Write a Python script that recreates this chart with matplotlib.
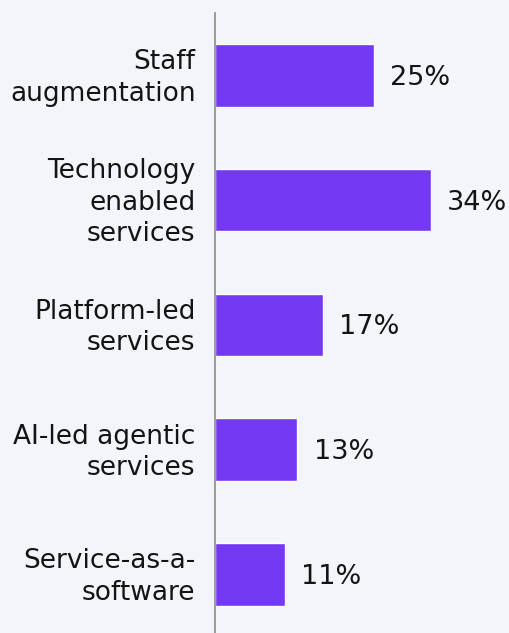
import matplotlib
matplotlib.use("Agg")
import matplotlib.pyplot as plt
from matplotlib.transforms import ScaledTranslation

categories = [
    "Staff\naugmentation",
    "Technology\nenabled\nservices",
    "Platform-led\nservices",
    "AI-led agentic\nservices",
    "Service-as-a-\nsoftware",
]
shares = [25, 34, 17, 13, 11]
value_labels = ["25%", "34%", "17%", "13%", "11%"]

bg = "#f2f6fa"
bar_color = "#7338f2"

fig = plt.figure(figsize=(5.10, 6.33), dpi=100, facecolor=bg)
ax = fig.add_axes([215 / 510, 0, 295 / 510, 1 - 13 / 633], facecolor=bg)

pos = list(range(len(categories)))
ax.barh(pos, shares, height=0.5, color=bar_color, edgecolor="white", linewidth=1)

for p, v, lab in zip(pos, shares, value_labels):
    ax.text(v + 2.6, p + 0.02, lab, va="center", ha="left", fontsize=19.5, color="#141414")

ax.set_xlim(0, 46.5)
ax.set_ylim(4.47, -0.5)
ax.set_yticks(pos)
ax.set_yticklabels(categories, fontsize=19, color="#141414", linespacing=1.27)
ax.tick_params(axis="y", length=0, pad=14)
ax.set_xticks([])

# category labels sit a touch above the bar centres in the original
nudge = ScaledTranslation(0, 3 / 100, fig.dpi_scale_trans)
for t in ax.get_yticklabels():
    t.set_transform(t.get_transform() + nudge)

for side in ["top", "right", "bottom"]:
    ax.spines[side].set_visible(False)
ax.spines["left"].set_color("#8a8a8a")
ax.spines["left"].set_linewidth(1.2)

fig.savefig("out.png", dpi=100, facecolor=bg)
